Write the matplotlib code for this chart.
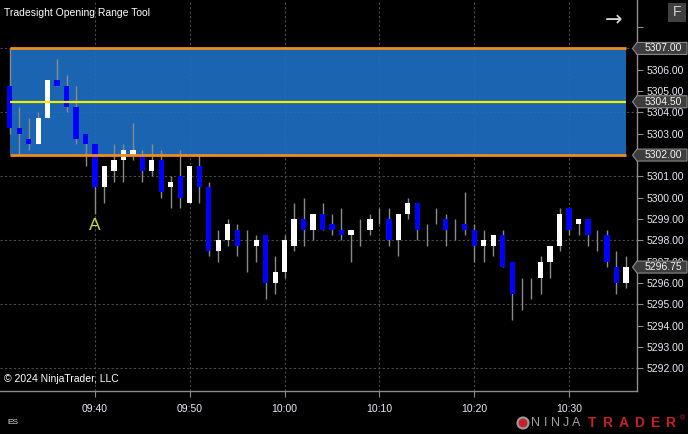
import matplotlib
matplotlib.use("Agg")
import matplotlib.pyplot as plt
import matplotlib.transforms as mtransforms
from matplotlib.patches import Polygon, Rectangle, Ellipse
import numpy as np

plt.rcParams['font.family'] = ['Liberation Sans', 'DejaVu Sans']

# one-minute ES bars, 09:31 .. 10:36
opens = [5305.25, 5303.25, 5302.75, 5302.50, 5303.75, 5305.50, 5305.25, 5304.25, 5303.00, 5302.50,
         5300.50, 5301.25, 5301.75, 5302.00, 5302.00, 5301.25, 5301.75, 5300.50, 5301.00, 5299.75,
         5301.50, 5300.50, 5297.50, 5298.00, 5298.50, 5297.50, 5297.75, 5298.25, 5296.00, 5296.50,
         5297.75, 5299.00, 5298.50, 5299.25, 5298.75, 5298.50, 5298.25, 5298.50, 5298.50, 5299.00,
         5299.00, 5298.00, 5299.25, 5299.75, 5298.25, 5299.00, 5299.00, 5298.50, 5298.75, 5298.50,
         5297.75, 5297.75, 5298.25, 5297.00, 5295.50, 5295.75, 5296.25, 5297.00, 5297.75, 5299.50,
         5298.75, 5299.00, 5298.00, 5298.25, 5296.75, 5296.00]
highs = [5307.00, 5304.25, 5303.75, 5304.00, 5305.50, 5306.50, 5305.75, 5305.25, 5303.00, 5302.50,
         5301.50, 5302.50, 5302.50, 5303.50, 5302.25, 5302.50, 5302.25, 5301.00, 5302.25, 5301.50,
         5302.00, 5300.75, 5298.50, 5299.00, 5298.75, 5298.50, 5298.25, 5298.25, 5297.25, 5298.25,
         5299.75, 5300.00, 5299.25, 5299.75, 5299.25, 5299.50, 5298.50, 5299.00, 5299.25, 5299.50,
         5299.50, 5299.25, 5300.00, 5299.75, 5298.75, 5299.50, 5299.25, 5299.00, 5300.25, 5298.75,
         5298.50, 5298.25, 5298.50, 5297.00, 5296.25, 5296.25, 5297.25, 5297.75, 5299.50, 5299.50,
         5299.00, 5299.00, 5298.50, 5298.50, 5297.50, 5297.25]
lows = [5303.00, 5302.00, 5302.25, 5302.50, 5303.75, 5305.25, 5304.00, 5302.50, 5301.50, 5299.25,
        5299.75, 5300.75, 5300.75, 5301.75, 5300.75, 5301.00, 5300.00, 5299.50, 5299.50, 5299.75,
        5299.75, 5297.25, 5297.00, 5297.75, 5297.25, 5296.50, 5297.00, 5295.25, 5295.50, 5296.25,
        5297.50, 5297.75, 5298.00, 5298.50, 5298.25, 5298.00, 5297.00, 5297.75, 5298.25, 5298.75,
        5297.75, 5297.25, 5299.00, 5298.00, 5297.75, 5298.75, 5297.75, 5298.00, 5298.25, 5297.00,
        5297.00, 5297.25, 5296.75, 5294.25, 5294.75, 5295.25, 5295.50, 5296.25, 5297.50, 5298.25,
        5298.25, 5297.75, 5297.50, 5296.75, 5295.50, 5295.75]
closes = [5303.25, 5303.00, 5302.50, 5303.75, 5305.50, 5305.25, 5304.25, 5302.75, 5302.50, 5300.50,
          5301.50, 5301.75, 5302.25, 5302.25, 5301.25, 5301.75, 5300.25, 5300.75, 5300.00, 5301.50,
          5300.50, 5297.50, 5298.00, 5298.75, 5297.75, 5297.50, 5298.00, 5296.00, 5296.50, 5298.00,
          5299.00, 5298.50, 5299.25, 5298.50, 5298.50, 5298.25, 5298.50, 5298.50, 5299.00, 5299.00,
          5298.00, 5299.25, 5299.75, 5298.50, 5298.25, 5299.00, 5298.50, 5298.50, 5298.50, 5297.75,
          5298.00, 5298.25, 5296.75, 5295.50, 5295.50, 5295.75, 5297.00, 5297.75, 5299.25, 5298.50,
          5299.00, 5298.25, 5298.00, 5297.00, 5296.00, 5296.75]

start_minute = 31          # first bar is 09:31
tick_minutes = [40, 50, 60, 70, 80, 90]
tick_labels = ["09:40", "09:50", "10:00", "10:10", "10:20", "10:30"]
price_ticks = [5292, 5293, 5294, 5295, 5296, 5297, 5298, 5299, 5300,
               5301, 5302, 5303, 5304, 5305, 5306, 5307, 5308]
grid_prices = [5292, 5295, 5298, 5301, 5304, 5307]

range_high = 5307.00
range_mid = 5304.50
range_low = 5302.00

W, H = 688, 434


def fx(px):
    return px / W


def fy(py):
    return 1 - py / H


o = np.array(opens)
h = np.array(highs)
l = np.array(lows)
c = np.array(closes)
x = np.arange(start_minute, start_minute + len(o))

fig = plt.figure(figsize=(6.88, 4.34), dpi=100, facecolor='black')
ax = fig.add_axes([0, 43 / H, 637 / W, 391 / H], facecolor='black')
ax.set_xlim(29.98, 97.17)
ax.set_ylim(5290.94, 5309.27)

# grid
ax.set_axisbelow(True)
ax.grid(axis='x', color='#4a4a4a', linestyle=(0, (2, 2)), linewidth=0.8)
for gp in grid_prices:
    ax.axhline(gp, color='#4a4a4a', linestyle=(0, (2, 2)), linewidth=0.8, zorder=0.6)

# opening range box
ax.add_patch(Rectangle((x[0], range_low), x[-1] - x[0], range_high - range_low,
                       facecolor='#1d70c6', alpha=0.9, edgecolor='none', zorder=1))

# candles
ax.vlines(x, l, h, color='#8a8a8a', linewidth=1, zorder=2)
body_col = np.where(c >= o, '#ffffff', '#0000ff')
ax.bar(x, np.abs(c - o), bottom=np.minimum(o, c), width=0.55,
       color=body_col, linewidth=0, zorder=3)

# range lines
ax.hlines([range_high, range_low], x[0], x[-1], color='#f08c1e', linewidth=2, zorder=4)
ax.hlines(range_mid, x[0], x[-1], color='#f2ee00', linewidth=1.6, zorder=4)

ax.text(x[9], l[9] - 0.57, 'A', ha='center', va='center', fontsize=12.5, color='#c8dc32', zorder=5)

# axes styling
for s in ['top', 'left']:
    ax.spines[s].set_visible(False)
for s in ['right', 'bottom']:
    ax.spines[s].set_color('#8c8c8c')
    ax.spines[s].set_linewidth(1)
ax.yaxis.tick_right()
ax.set_yticks(price_ticks)
# labels that sit exactly under a price marker are left out
hidden = [range_high, range_low, 5308]
ax.set_yticklabels(['' if p in hidden else '%.2f' % p for p in price_ticks])
ax.set_xticks(tick_minutes)
ax.set_xticklabels(tick_labels)
ax.tick_params(axis='y', length=4, width=0.8, color='#8c8c8c', pad=3,
               labelsize=7.5, labelcolor='#e6ecf5')
ax.tick_params(axis='x', length=4, width=0.8, color='#8c8c8c', pad=5,
               labelsize=7.5, labelcolor='#e6ecf5')

# price markers on the right scale
blend = mtransforms.blended_transform_factory(fig.transFigure, ax.transData)
hh = 6 / 21.33
for price in [range_high, range_mid, range_low, c[-1]]:
    pts = [(fx(632.5), price), (fx(637), price + hh), (fx(687), price + hh),
           (fx(687), price - hh), (fx(637), price - hh)]
    ax.add_patch(Polygon(pts, closed=True, transform=blend, facecolor='#3d3d3d',
                         edgecolor='#8a8a8a', linewidth=0.8, clip_on=False, zorder=6))
    ax.text(fx(645), price, '%.2f' % price, transform=blend, ha='left', va='center',
            fontsize=7.5, color='#f4f4f4', clip_on=False, zorder=7)

# header / footer texts
fig.text(fx(4), fy(13), 'Tradesight Opening Range Tool', ha='left', va='center',
         fontsize=7.5, color='#ffffff')
fig.text(fx(4), fy(379), '\u00a9 2024 NinjaTrader, LLC', ha='left', va='center',
         fontsize=7.5, color='#ffffff')
fig.text(fx(7), fy(423), 'ES', ha='left', va='center', fontsize=6, color='#e0e0e0')
fig.text(fx(614), fy(20), '\u2192', ha='center', va='center', fontsize=15,
         color='#d8d8d8', family='DejaVu Sans')
fig.patches.append(Rectangle((fx(668), fy(22)), 18 / W, 19 / H, transform=fig.transFigure,
                             facecolor='#404040', edgecolor='none'))
fig.text(fx(677), fy(12.5), 'F', ha='center', va='center', fontsize=10, color='#d0d0d0')

# NinjaTrader logo
fig.patches.append(Ellipse((fx(523), fy(423)), 11 / W, 11 / H, transform=fig.transFigure,
                           facecolor='#c8202a', edgecolor='#9a9a9a', linewidth=1.5))
for k, ch in enumerate('NINJA'):
    fig.text(fx(536 + 10 * k), fy(423), ch, ha='center', va='center', fontsize=9,
             color='#a0a0a0')
for k, ch in enumerate('TRADER'):
    fig.text(fx(592 + 15.6 * k), fy(423), ch, ha='center', va='center', fontsize=10,
             color='#c8202a', fontweight='bold')
fig.text(fx(683), fy(419), '\u00ae', ha='center', va='center', fontsize=5, color='#c8202a')

fig.savefig('out.png', dpi=100, facecolor='black')
